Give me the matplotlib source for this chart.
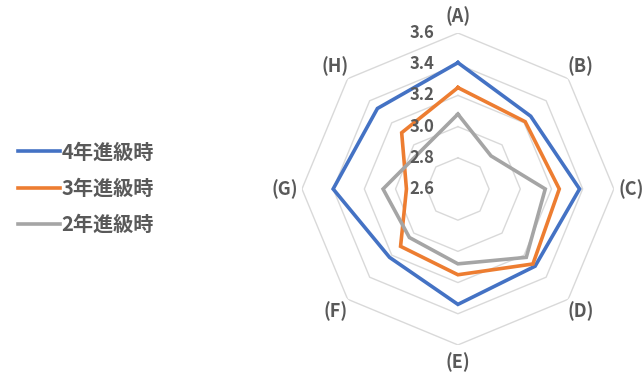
import numpy as np
import matplotlib
matplotlib.use("Agg")
import matplotlib.pyplot as plt

plt.rcParams['font.family'] = ['Noto Sans CJK JP', 'DejaVu Sans']

# categories and scores for each grade
categories = ['(A)', '(B)', '(C)', '(D)', '(E)', '(F)', '(G)', '(H)']
grade4 = [3.41, 3.26, 3.38, 3.30, 3.34, 3.22, 3.40, 3.33]
grade3 = [3.25, 3.21, 3.25, 3.28, 3.15, 3.12, 2.93, 3.11]
grade2 = [3.08, 2.90, 3.16, 3.22, 3.08, 3.04, 3.08, 2.94]
series_names = ['4年進級時', '3年進級時', '2年進級時']
levels = [2.8, 3.0, 3.2, 3.4, 3.6]
level_labels = ['2.6', '2.8', '3.0', '3.2', '3.4', '3.6']

colors = ['#4472C4', '#ED7D31', '#A5A5A5']
text_color = '#595959'

fig = plt.figure(figsize=(6.44, 3.74), dpi=100)
ax = fig.add_axes([0.4688, 0.0777, 0.4845, 0.834], projection='polar')
ax.set_theta_zero_location('N')
ax.set_theta_direction(-1)
ax.set_ylim(2.6, 3.6)
ax.grid(False)
ax.spines['polar'].set_visible(False)
ax.set_xticks([])
ax.set_yticks([])

angles = np.linspace(0, 2 * np.pi, len(categories), endpoint=False)
closed = np.append(angles, angles[0])

# octagon grid
for lv in levels:
    ax.plot(closed, [lv] * len(closed), color='#D9D9D9', lw=1, zorder=1)

# data polygons
for vals, col, name in zip([grade4, grade3, grade2], colors, series_names):
    ax.plot(closed, vals + vals[:1], color=col, lw=2.6, label=name, zorder=3,
            solid_joinstyle='miter')

# value labels along the top spoke
for i, lab in enumerate(level_labels):
    ax.annotate(lab, xy=(0, 2.6 + 0.2 * i), xytext=(-17, 0), textcoords='offset points',
                ha='right', va='center', fontsize=12, fontweight='bold',
                color=text_color, zorder=4)

# category labels
for ang, cat in zip(angles, categories):
    ax.text(ang, 3.71, cat, ha='center', va='center', fontsize=13,
            fontweight='bold', color=text_color, clip_on=False)

handles, labels = ax.get_legend_handles_labels()
leg = fig.legend(handles, labels, loc='center left', bbox_to_anchor=(0.0, 0.497),
                 frameon=False, handlelength=2.1, handletextpad=0.05,
                 labelspacing=0.75, prop={'size': 14.5, 'weight': 'bold'})
for t in leg.get_texts():
    t.set_color(text_color)

fig.savefig('out.png', dpi=100)
